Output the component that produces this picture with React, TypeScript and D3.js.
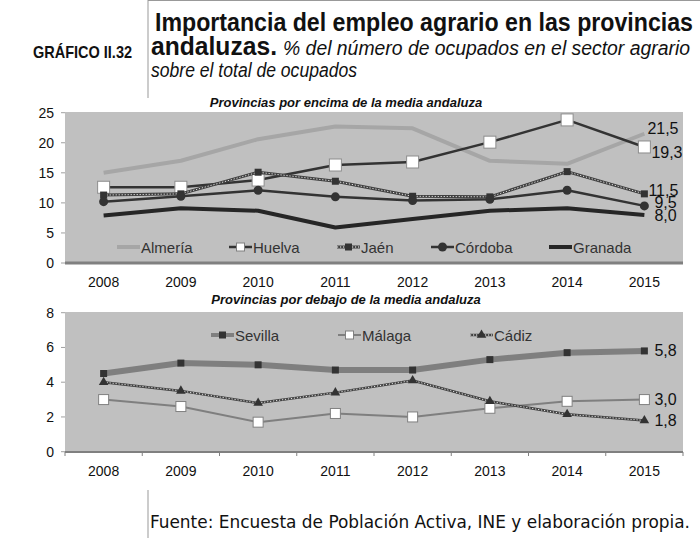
import React from "react";
import * as d3 from "d3";

const years = ["2008", "2009", "2010", "2011", "2012", "2013", "2014", "2015"];

// Provincias por encima de la media andaluza
const almeria = [15.0, 17.0, 20.6, 22.7, 22.4, 17.0, 16.5, 21.5];
const huelva = [12.6, 12.6, 13.8, 16.3, 16.8, 20.1, 23.8, 19.3];
const jaen = [11.3, 11.5, 15.1, 13.6, 11.1, 11.0, 15.2, 11.5];
const cordoba = [10.2, 11.1, 12.1, 11.0, 10.4, 10.6, 12.1, 9.5];
const granada = [7.9, 9.1, 8.7, 5.9, 7.3, 8.7, 9.1, 8.0];

// Provincias por debajo de la media andaluza
const sevilla = [4.5, 5.1, 5.0, 4.7, 4.7, 5.3, 5.7, 5.8];
const malaga = [3.0, 2.6, 1.7, 2.2, 2.0, 2.5, 2.9, 3.0];
const cadiz = [4.0, 3.5, 2.8, 3.4, 4.1, 2.9, 2.15, 1.8];

const topTicks = [0, 5, 10, 15, 20, 25];
const bottomTicks = [0, 2, 4, 6, 8];

const FONT = "'Liberation Sans', Arial, sans-serif";
const NARROW = "'Liberation Sans Narrow', 'Arial Narrow', 'Liberation Sans', sans-serif";

const x = d3.scaleBand<string>().domain(years).range([65, 683]);
const cx = (i: number) => (x(years[i]) ?? 0) + x.bandwidth() / 2;
const yTop = d3.scaleLinear().domain([0, 25]).range([263, 112.7]);
const yBot = d3.scaleLinear().domain([0, 8]).range([451.7, 312.7]);

function path(values: number[], y: d3.ScaleLinear<number, number>) {
  return (
    d3
      .line<number>()
      .x((_, i) => cx(i))
      .y((d) => y(d))(values) ?? ""
  );
}

type Marker = "none" | "whiteSquare" | "darkSquare" | "circle" | "triangle" | "smallWhite" | "legendWhite";

function MarkerShape({ kind, x0, y0 }: { kind: Marker; x0: number; y0: number }) {
  if (kind === "whiteSquare")
    return <rect x={x0 - 6} y={y0 - 6} width={12} height={12} fill="#fff" stroke="#8c8c8c" strokeWidth={1} />;
  if (kind === "smallWhite")
    return <rect x={x0 - 5} y={y0 - 5} width={10} height={10} fill="#fff" stroke="#808080" strokeWidth={1} />;
  if (kind === "legendWhite")
    return <rect x={x0 - 4} y={y0 - 4} width={8} height={8} fill="#fff" stroke="#808080" strokeWidth={1} />;
  if (kind === "darkSquare")
    return <rect x={x0 - 3.5} y={y0 - 3.5} width={7} height={7} fill="#333" />;
  if (kind === "circle") return <circle cx={x0} cy={y0} r={4.5} fill="#333" />;
  if (kind === "triangle")
    return <path d={d3.symbol().type(d3.symbolTriangle).size(40)() ?? ""} transform={`translate(${x0},${y0})`} fill="#333" />;
  return null;
}

interface Series {
  name: string;
  values: number[];
  color: string;
  width: number;
  dotted?: boolean;
  marker: Marker;
}

const topSeries: Series[] = [
  { name: "Almería", values: almeria, color: "#a6a6a6", width: 4, marker: "none" },
  { name: "Huelva", values: huelva, color: "#333", width: 2.5, marker: "whiteSquare" },
  { name: "Jaén", values: jaen, color: "#404040", width: 3, dotted: true, marker: "darkSquare" },
  { name: "Córdoba", values: cordoba, color: "#333", width: 2.5, marker: "circle" },
  { name: "Granada", values: granada, color: "#262626", width: 4, marker: "none" },
];

const bottomSeries: Series[] = [
  { name: "Sevilla", values: sevilla, color: "#7f7f7f", width: 6, marker: "darkSquare" },
  { name: "Málaga", values: malaga, color: "#7f7f7f", width: 2, marker: "smallWhite" },
  { name: "Cádiz", values: cadiz, color: "#404040", width: 2.5, dotted: true, marker: "triangle" },
];

// legend layout: line start x per item
const topLegendX = [117, 229, 337, 431, 549];
const bottomLegendX = [211, 338, 470];

// end label offsets [dx, dy] from last point
const topLabelOffset = [
  [3, -5],
  [7, 6],
  [4, -3],
  [10, -3],
  [10, 1],
];
const bottomLabelOffset = [
  [10, 0],
  [10, 0],
  [10, 0],
];

function Lines({ series, y }: { series: Series[]; y: d3.ScaleLinear<number, number> }) {
  return (
    <g>
      {series.map((s) => (
        <g key={s.name}>
          <path d={path(s.values, y)} fill="none" stroke={s.color} strokeWidth={s.width} strokeLinejoin="round" />
          {s.dotted && (
            <path d={path(s.values, y)} fill="none" stroke="#fff" strokeWidth={1} strokeDasharray="1.2 1.8" opacity={0.85} />
          )}
          {s.values.map((v, i) => (
            <MarkerShape key={i} kind={s.marker} x0={cx(i)} y0={y(v)} />
          ))}
        </g>
      ))}
    </g>
  );
}

function Legend({ series, xs, y0 }: { series: Series[]; xs: number[]; y0: number }) {
  return (
    <g>
      {series.map((s, i) => {
        const x0 = xs[i];
        const m: Marker = s.marker === "whiteSquare" || s.marker === "smallWhite" ? "legendWhite" : s.marker;
        return (
          <g key={s.name}>
            <line x1={x0} x2={x0 + 23} y1={y0} y2={y0} stroke={s.color} strokeWidth={Math.min(s.width, 4)} />
            {s.dotted && (
              <line x1={x0} x2={x0 + 23} y1={y0} y2={y0} stroke="#fff" strokeWidth={1} strokeDasharray="1.2 1.8" />
            )}
            <MarkerShape kind={m} x0={x0 + 11.5} y0={y0} />
            <text x={x0 + 24} y={y0 + 5.5} fontFamily={FONT} fontSize={15} fill="#333">
              {s.name}
            </text>
          </g>
        );
      })}
    </g>
  );
}

function EndLabels({
  series,
  y,
  offsets,
}: {
  series: Series[];
  y: d3.ScaleLinear<number, number>;
  offsets: number[][];
}) {
  const last = years.length - 1;
  return (
    <g>
      {series.map((s, i) => (
        <text
          key={s.name}
          x={cx(last) + offsets[i][0]}
          y={y(s.values[last]) + offsets[i][1] + 5.5}
          fontFamily={FONT}
          fontSize={16}
          fill="#111"
        >
          {s.values[last].toFixed(1).replace(".", ",")}
        </text>
      ))}
    </g>
  );
}

function Panel({
  y,
  ticks,
  top,
  bottom,
  thickAxis,
}: {
  y: d3.ScaleLinear<number, number>;
  ticks: number[];
  top: number;
  bottom: number;
  thickAxis: boolean;
}) {
  return (
    <g>
      <rect x={65} y={top} width={618} height={bottom - top} fill="#c0c0c0" />
      {ticks.map((t) => (
        <g key={t}>
          <line x1={61} x2={65} y1={y(t)} y2={y(t)} stroke="#a0a0a0" />
          <text x={54} y={y(t) + 5} textAnchor="end" fontFamily={FONT} fontSize={14} fill="#111">
            {t}
          </text>
        </g>
      ))}
      <line x1={65} x2={683} y1={bottom} y2={bottom} stroke="#808080" strokeWidth={thickAxis ? 3 : 2} />
      {!thickAxis &&
        [...years.map((yr) => x(yr) ?? 0), 683].map((bx, i) => (
          <line key={i} x1={bx} x2={bx} y1={bottom} y2={bottom + 4} stroke="#808080" />
        ))}
      {years.map((yr, i) => (
        <text key={yr} x={cx(i)} y={bottom + 24} textAnchor="middle" fontFamily={FONT} fontSize={14} fill="#111">
          {yr}
        </text>
      ))}
    </g>
  );
}

export default function App() {
  return (
    <svg
      width={700}
      height={538}
      style={{ position: "absolute", left: 0, top: 0, background: "#fff" }}
    >
      {/* header frame */}
      <line x1={148} x2={148} y1={0} y2={98} stroke="#999" />
      <line x1={148} x2={700} y1={0.5} y2={0.5} stroke="#999" />
      <text x={33} y={58} fontFamily={NARROW} fontWeight="bold" fontSize={17} textLength={99} lengthAdjust="spacingAndGlyphs" fill="#111">
        GRÁFICO II.32
      </text>
      <text x={155} y={31} fontFamily={NARROW} fontWeight="bold" fontSize={25} textLength={538} lengthAdjust="spacingAndGlyphs" fill="#111">
        Importancia del empleo agrario en las provincias
      </text>
      <text x={151} y={55} fontFamily={NARROW} fontWeight="bold" fontSize={25} textLength={126} lengthAdjust="spacingAndGlyphs" fill="#111">
        andaluzas.
      </text>
      <text x={283} y={55} fontFamily={NARROW} fontStyle="italic" fontSize={20} textLength={407} lengthAdjust="spacingAndGlyphs" fill="#111">
        % del número de ocupados en el sector agrario
      </text>
      <text x={151} y={77} fontFamily={NARROW} fontStyle="italic" fontSize={20} textLength={206} lengthAdjust="spacingAndGlyphs" fill="#111">
        sobre el total de ocupados
      </text>

      {/* top panel */}
      <text x={346} y={107} textAnchor="middle" fontFamily={FONT} fontWeight="bold" fontStyle="italic" fontSize={13} fill="#111">
        Provincias por encima de la media andaluza
      </text>
      <Panel y={yTop} ticks={topTicks} top={112} bottom={263} thickAxis={true} />
      <Lines series={topSeries} y={yTop} />
      <Legend series={topSeries} xs={topLegendX} y0={247} />
      <EndLabels series={topSeries} y={yTop} offsets={topLabelOffset} />

      {/* bottom panel */}
      <text x={346} y={304} textAnchor="middle" fontFamily={FONT} fontWeight="bold" fontStyle="italic" fontSize={13} fill="#111">
        Provincias por debajo de la media andaluza
      </text>
      <Panel y={yBot} ticks={bottomTicks} top={312} bottom={452} thickAxis={false} />
      <Lines series={bottomSeries} y={yBot} />
      <Legend series={bottomSeries} xs={bottomLegendX} y0={335} />
      <EndLabels series={bottomSeries} y={yBot} offsets={bottomLabelOffset} />

      {/* footer */}
      <line x1={148} x2={148} y1={490} y2={538} stroke="#999" />
      <text x={150} y={528} fontFamily="'DejaVu Sans Condensed', 'DejaVu Sans', sans-serif" fontSize={18} textLength={540} lengthAdjust="spacingAndGlyphs" fill="#111">
        Fuente: Encuesta de Población Activa, INE y elaboración propia.
      </text>
    </svg>
  );
}
